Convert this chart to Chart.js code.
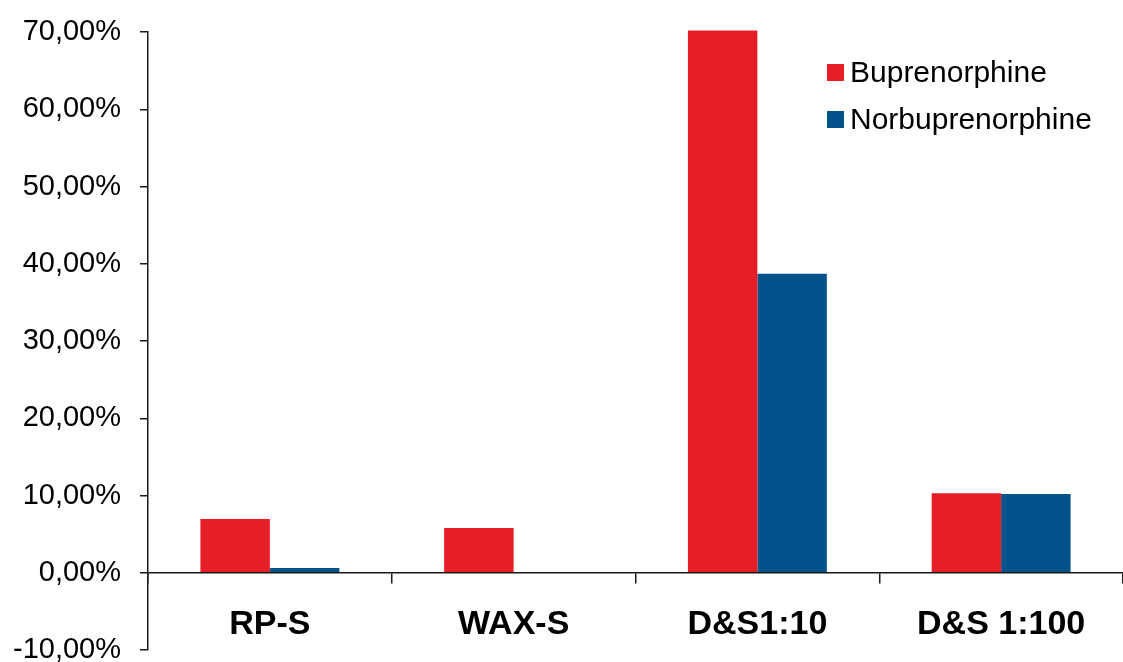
<!DOCTYPE html>
<html>
<head>
<meta charset="utf-8">
<script src="https://cdn.jsdelivr.net/npm/chart.js@4/dist/chart.umd.min.js"></script>
<style>
  html, body { margin: 0; padding: 0; background: #fff; }
  #wrap { width: 1123px; height: 662px; }
</style>
</head>
<body>
<div id="wrap"><canvas id="chart" width="1123" height="662"></canvas></div>
<script>
const categories = ['RP-S', 'WAX-S', 'D&S1:10', 'D&S 1:100'];
const buprenorphine = [6.95, 5.8, 70.2, 10.3];
const norbuprenorphine = [0.6, 0.0, 38.7, 10.2];
const yTickLabels = ['-10,00%', '0,00%', '10,00%', '20,00%', '30,00%', '40,00%', '50,00%', '60,00%', '70,00%'];

const font = "'Liberation Sans', Arial, sans-serif";
const axisColor = '#1a1a1a';

// legend drawn inside the plot, top right
const cornerLegend = {
    id: 'cornerLegend',
    afterDraw(chart) {
        const ctx = chart.ctx;
        ctx.save();
        ctx.font = '30px ' + font;
        ctx.textBaseline = 'middle';
        chart.data.datasets.forEach((ds, i) => {
            const cy = 72.5 + i * 47;
            ctx.fillStyle = ds.backgroundColor;
            ctx.fillRect(827, cy - 8.5, 17, 17);
            ctx.fillStyle = '#000';
            ctx.fillText(ds.label, 850, cy + 1);
        });
        ctx.restore();
    }
};

new Chart(document.getElementById('chart').getContext('2d'), {
    type: 'bar',
    data: {
        labels: categories,
        datasets: [{
            label: 'Buprenorphine',
            data: buprenorphine,
            backgroundColor: '#e61f26',
            clip: false
        }, {
            label: 'Norbuprenorphine',
            data: norbuprenorphine,
            backgroundColor: '#04528a',
            clip: false
        }]
    },
    options: {
        responsive: false,
        animation: false,
        events: [],
        categoryPercentage: 0.57,
        barPercentage: 1.0,
        layout: { padding: { top: 32, right: 0, bottom: 12, left: 0 } },
        plugins: {
            legend: { display: false },
            tooltip: { enabled: false }
        },
        scales: {
            x: {
                position: { y: 0 },
                afterFit: (scale) => { scale.height = 0; },
                grid: {
                    display: true,
                    offset: true,
                    drawOnChartArea: false,
                    drawTicks: true,
                    tickLength: 10,
                    color: (c) => c.index === categories.length ? 'rgba(0,0,0,0)' : axisColor,
                    lineWidth: 1.5
                },
                border: { display: true, color: axisColor, width: 1.5 },
                ticks: {
                    color: '#000',
                    padding: 21,
                    maxRotation: 0,
                    font: { family: font, size: 34, weight: 'bold' }
                }
            },
            y: {
                min: -10,
                max: 70,
                afterFit: (scale) => {
                    scale.width = 148;
                    scale.paddingTop = 0;
                    scale.paddingBottom = 0;
                },
                grid: {
                    display: true,
                    drawOnChartArea: false,
                    drawTicks: true,
                    tickLength: 8,
                    color: axisColor,
                    lineWidth: 1.5
                },
                border: { display: true, color: axisColor, width: 1.5 },
                ticks: {
                    stepSize: 10,
                    color: '#000',
                    padding: 19,
                    font: { family: font, size: 29 },
                    callback: (v, i) => yTickLabels[i]
                }
            }
        }
    },
    plugins: [cornerLegend]
});
</script>
</body>
</html>
